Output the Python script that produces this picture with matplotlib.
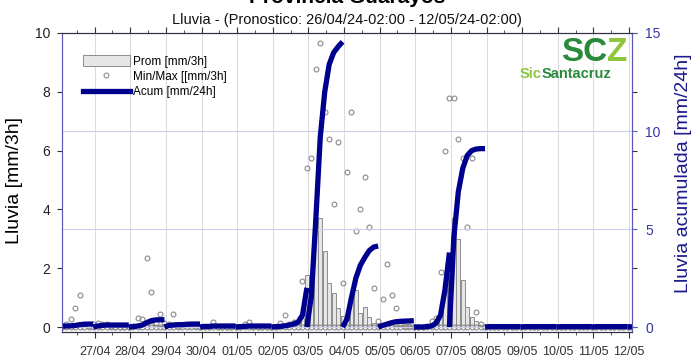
import matplotlib
matplotlib.use('Agg')
import matplotlib.pyplot as plt
import matplotlib.dates as mdates
from matplotlib.patches import Patch
from matplotlib.lines import Line2D
import pandas as pd

plt.rcParams['font.family'] = ['Liberation Sans', 'DejaVu Sans']

# 3-hourly forecast steps, 26/04 02:00 -> 12/05 02:00
times = pd.date_range('2024-04-26 02:00', '2024-05-12 02:00', freq='3h')

# Prom [mm/3h]
prom = [0, 0.02, 0.05, 0.08, 0.1, 0.02, 0, 0.05,
        0.08, 0.08, 0.05, 0, 0, 0, 0, 0,
        0, 0.02, 0.08, 0.15, 0.12, 0.08, 0.05, 0.1,
        0.05, 0.05, 0, 0.03, 0.05, 0.05, 0, 0,
        0, 0, 0.03, 0, 0, 0, 0, 0,
        0, 0.02, 0.03, 0, 0, 0, 0, 0,
        0, 0.02, 0.05, 0.15, 0.2, 0.2, 0.3, 1.77,
        1.8, 3.4, 3.7, 2.6, 1.5, 1.15, 0.65, 0.37,
        0.3, 1.0, 1.25, 0.47, 0.69, 0.35, 0.15, 0.05,
        0.08, 0.1, 0.08, 0.05, 0.03, 0.02, 0.02, 0,
        0, 0, 0, 0.15, 0.2, 0.4, 1.3, 1.9,
        3.7, 3.0, 1.6, 0.68, 0.35, 0.2, 0.05, 0,
        0, 0, 0, 0, 0, 0, 0, 0,
        0, 0, 0, 0, 0, 0, 0, 0,
        0, 0, 0, 0, 0, 0, 0, 0,
        0, 0, 0, 0, 0, 0, 0, 0,
        0]

# Min/Max [mm/3h]
maxv = [0.05, 0.1, 0.27, 0.63, 1.08, 0.1, 0.05, 0.1,
        0.12, 0.1, 0.1, 0.02, 0, 0, 0, 0,
        0.02, 0.32, 0.28, 2.34, 1.2, 0.15, 0.43, 0.12,
        0.1, 0.43, 0.05, 0.08, 0.08, 0.08, 0.02, 0,
        0, 0, 0.16, 0, 0, 0, 0, 0,
        0, 0.09, 0.16, 0, 0, 0, 0, 0,
        0, 0.15, 0.4, 0.1, 0.18, 0.18, 1.57, 5.4,
        5.75, 8.78, 9.65, 7.3, 6.4, 4.2, 6.3, 1.5,
        5.26, 7.3, 3.28, 4.0, 5.1, 3.4, 1.33, 0.2,
        0.96, 2.14, 1.08, 0.65, 0.1, 0.05, 0.05, 0,
        0, 0, 0.05, 0.2, 0.3, 1.88, 6.0, 7.8,
        7.8, 6.4, 5.75, 3.4, 5.75, 0.52, 0.1, 0,
        0, 0, 0, 0, 0, 0, 0, 0,
        0, 0, 0, 0, 0, 0, 0, 0,
        0, 0, 0, 0, 0, 0, 0, 0,
        0, 0, 0, 0, 0, 0, 0, 0,
        0]
minv = [0.0] * 129

# Acum [mm/24h], restarts every day at 23:00
acum = [0.05, 0.05, 0.06, 0.08, 0.12, 0.14, 0.15, 0.15,
        0.05, 0.08, 0.1, 0.1, 0.1, 0.1, 0.1, 0.1,
        0.02, 0.05, 0.1, 0.22, 0.32, 0.36, 0.37, 0.37,
        0.08, 0.1, 0.12, 0.12, 0.14, 0.15, 0.15, 0.15,
        0.03, 0.03, 0.05, 0.05, 0.05, 0.05, 0.05, 0.05,
        0.02, 0.03, 0.05, 0.05, 0.05, 0.05, 0.05, 0.05,
        0.02, 0.03, 0.06, 0.1, 0.15, 0.25, 0.6, 2.0,
        1.6, 5.5, 9.7, 12.0, 13.4, 14.0, 14.3, 14.55,
        0.4, 1.5, 2.5, 3.15, 3.55, 3.9, 4.08, 4.13,
        0.08, 0.15, 0.22, 0.27, 0.29, 0.3, 0.31, 0.32,
        0, 0, 0.02, 0.05, 0.2, 0.6, 1.9, 3.8,
        4.6, 6.9, 8.1, 8.75, 9.0, 9.08, 9.1, 9.1,
        0.02, 0.02, 0.02, 0.02, 0.02, 0.02, 0.02, 0.02,
        0.02, 0.02, 0.02, 0.02, 0.02, 0.02, 0.02, 0.02,
        0.02, 0.02, 0.02, 0.02, 0.02, 0.02, 0.02, 0.02,
        0.02, 0.02, 0.02, 0.02, 0.02, 0.02, 0.02, 0.02,
        0.02]
resets = [0, 7, 15, 23, 31, 39, 47, 55, 63, 71, 79, 87, 95, 103, 111, 119, 127, 128]

navy = '#00008f'
bluish = '#5a5ab4'

fig = plt.figure(figsize=(6.93, 3.58), dpi=100)
ax = fig.add_axes([62/693, 26/358, 570/693, 299/358])
ax2 = ax.twinx()

x = mdates.date2num(times)
ax.bar(x, prom, width=0.105, color='#e6e6e6', edgecolor='#8c8c8c', lw=0.7, zorder=2)
ax.plot(x, minv, 'o', ls='none', mfc='none', mec='#8a8a8a', ms=3.5, mew=0.8, zorder=3)
ax.plot(x, maxv, 'o', ls='none', mfc='none', mec='#8a8a8a', ms=3.5, mew=0.8, zorder=3)

for s, e in zip(resets[:-1], resets[1:]):
    ys = [acum[s] if s == 0 else 0.0] + acum[s + 1:e + 1]
    ax2.plot(x[s:e + 1], ys, color=navy, lw=3.8, solid_capstyle='butt')

ax.set_xlim(x[0], x[-1])
ax.set_ylim(-0.17, 10)
ax2.set_ylim(-0.255, 15)

ax.xaxis.set_major_locator(mdates.DayLocator())
ax.xaxis.set_major_formatter(mdates.DateFormatter('%d/%m'))
ax.xaxis.set_minor_locator(mdates.HourLocator(byhour=[12]))
ax.set_yticks([0, 2, 4, 6, 8, 10])
ax2.set_yticks([0, 5, 10, 15])

ax.grid(axis='x', which='major', color='#dcdcdc', lw=0.8)
ax.set_axisbelow(True)
ax2.grid(axis='y', color='#cdcdee', lw=0.8)

ax.tick_params(axis='x', which='major', top=True, direction='out', length=4,
               labelsize=9, pad=6, colors='#333333')
ax.tick_params(axis='x', which='minor', top=True, direction='out', length=2.5, color='#333333')
ax.tick_params(axis='y', right=True, labelright=False, direction='out', length=3.5,
               labelsize=10, pad=5, color='#333333', labelcolor='#222222')
ax2.tick_params(axis='y', direction='out', length=3.5, labelsize=10, pad=6,
                color=bluish, labelcolor='#3535a5')

for a in (ax, ax2):
    a.spines['left'].set_color(bluish)
    a.spines['right'].set_color(bluish)
    a.spines['top'].set_color('#333344')
    a.spines['bottom'].set_color('#333344')

fig.text(347/693, 1 - 3/358, 'Provincia Guarayos', ha='center', va='baseline',
         fontsize=15, fontweight='bold')
fig.text(347/693, 1 - 24/358, 'Lluvia - (Pronostico: 26/04/24-02:00 - 12/05/24-02:00)',
         ha='center', va='baseline', fontsize=10.5, color='#111111')
fig.text(15/693, 1 - 180/358, 'Lluvia [mm/3h]', rotation=90, ha='center', va='center',
         fontsize=14)
fig.text(683/693, 1 - 173/358, 'Lluvia acumulada [mm/24h]', rotation=90, ha='center',
         va='center', fontsize=14, color='#1a1a8c')

# logo
dark_green = '#2a8a3c'
light_green = '#8cc63f'
t1 = fig.text(561/693, 1 - 61/358, 'SC', ha='left', va='baseline', fontsize=24,
              fontweight='bold', color=dark_green)
ax2.annotate('Z', xy=(1, 0), xycoords=t1, ha='left', va='bottom', fontsize=24,
             fontweight='bold', color=light_green, annotation_clip=False)
t2 = fig.text(520/693, 1 - 78/358, 'Sic', ha='left', va='baseline', fontsize=10.5,
              fontweight='bold', color=light_green)
ax2.annotate('Santacruz', xy=(1, 0), xycoords=t2, ha='left', va='bottom', fontsize=10.5,
             fontweight='bold', color=dark_green, annotation_clip=False)

handles = [Patch(facecolor='#e6e6e6', edgecolor='#8c8c8c', lw=0.7),
           Line2D([], [], ls='none', marker='o', mfc='none', mec='#8a8a8a', ms=3.5, mew=0.8),
           Line2D([], [], color=navy, lw=3.8)]
labels = ['Prom [mm/3h]', 'Min/Max [[mm/3h]', 'Acum [mm/24h]']
ax2.legend(handles, labels, loc='upper left', bbox_to_anchor=(0.036, 0.925), frameon=False,
           fontsize=8.5, handlelength=4, handleheight=1.0, handletextpad=0.25,
           labelspacing=0.25, borderaxespad=0, borderpad=0)

fig.savefig('out.png', dpi=100)
